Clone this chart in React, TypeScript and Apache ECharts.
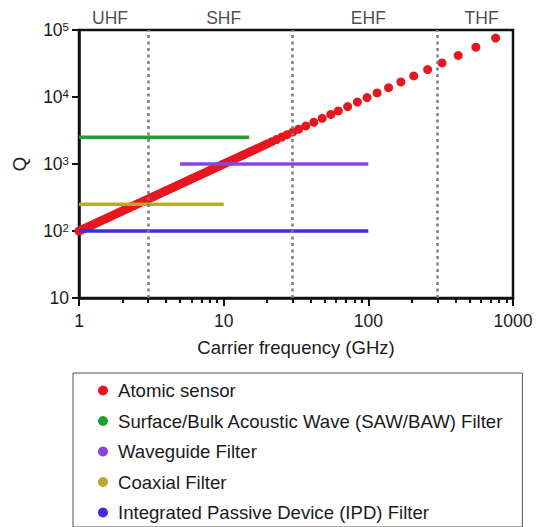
import React, { useEffect, useRef } from "react";
import * as echarts from "echarts";

// Atomic sensor points: [carrier frequency (GHz), Q]
const atomicSensor: [number, number][] = [
  [1, 100], [1.04, 104], [1.08, 108], [1.12, 112], [1.17, 117], [1.22, 122], [1.27, 127],
  [1.32, 132], [1.37, 137], [1.43, 143], [1.49, 149], [1.55, 155], [1.61, 161], [1.68, 168],
  [1.75, 175], [1.82, 182], [1.89, 189], [1.97, 197], [2.05, 205], [2.13, 213], [2.22, 222],
  [2.31, 231], [2.4, 240], [2.5, 250], [2.6, 260], [2.7, 270], [2.81, 281], [2.93, 293],
  [3.05, 305], [3.17, 317], [3.3, 330], [3.43, 343], [3.57, 357], [3.72, 372], [3.87, 387],
  [4.02, 402], [4.19, 419], [4.36, 436], [4.53, 453], [4.72, 472], [4.91, 491], [5.1, 510],
  [5.31, 531], [5.53, 553], [5.75, 575], [5.98, 598], [6.22, 622], [6.48, 648], [6.74, 674],
  [7.01, 701], [7.29, 729], [7.59, 759], [7.9, 790], [8.22, 822], [8.55, 855], [8.89, 889],
  [9.25, 925], [9.63, 963], [10, 1000], [10.4, 1040], [10.8, 1080], [11.3, 1130], [11.8, 1180],
  [12.3, 1230], [12.9, 1290], [13.5, 1350], [14.1, 1410], [14.8, 1480], [15.5, 1550],
  [16.3, 1630], [17.1, 1710], [18, 1800], [19, 1900], [20.1, 2010], [21.5, 2150], [23.2, 2320],
  [25.2, 2520], [27.4, 2740], [30, 3000], [33, 3300], [37, 3700], [42, 4200], [48, 4800],
  [55, 5500], [62, 6200], [72, 7200], [84, 8400], [98, 9800], [115, 11500], [138, 13800],
  [168, 16800], [206, 20600], [257, 25700], [323, 32300], [418, 41800], [554, 55400], [758, 75800],
];

// Filter ranges: [[fStart, Q], [fEnd, Q]]
const sawBaw: [number, number][] = [[1, 2500], [15, 2500]];
const waveguide: [number, number][] = [[5, 1000], [100, 1000]];
const coaxial: [number, number][] = [[1, 250], [10, 250]];
const ipd: [number, number][] = [[1, 100], [100, 100]];

const seriesNames = [
  "Atomic sensor",
  "Surface/Bulk Acoustic Wave (SAW/BAW) Filter",
  "Waveguide Filter",
  "Coaxial Filter",
  "Integrated Passive Device (IPD) Filter",
];
const seriesColors = ["#e8161e", "#22a02c", "#8a44dc", "#bda82e", "#3d2fd4"];

// Band boundaries (GHz) and band labels
const bandBoundaries = [3, 30, 300];
const bandLabels = ["UHF", "SHF", "EHF", "THF"];
const bandLabelFreqs = [1.64, 10, 100, 607];

// Axis ticks
const xMinorTickFreqs = [2, 3, 4, 5, 6, 7, 8, 9, 20, 30, 40, 50, 60, 70, 80, 90, 200, 300, 400, 500, 600, 700, 800, 900];

const FONT = "'Liberation Sans', Arial, sans-serif";
const TXT = "#1a1a1a";
const AX = "#111";

export default function App() {
  const ref = useRef<HTMLDivElement>(null);
  useEffect(() => {
    if (!ref.current) return;
    const chart = echarts.init(ref.current, null, { renderer: "svg" });
    const lineSeries = [sawBaw, waveguide, coaxial, ipd].map((d, i) => ({
      name: seriesNames[i + 1],
      type: "line",
      data: d,
      symbol: "none",
      showSymbol: false,
      z: 3,
      itemStyle: { color: seriesColors[i + 1] },
      lineStyle: { color: seriesColors[i + 1], width: 3.5 },
    }));
    chart.setOption({
      animation: false,
      textStyle: { fontFamily: FONT },
      grid: { left: 79, right: 28, top: 30, bottom: 229, show: true, borderColor: AX, borderWidth: 2.5 },
      xAxis: [
        {
          type: "log",
          logBase: 10,
          min: 1,
          max: 1000,
          name: "Carrier frequency (GHz)",
          nameLocation: "middle",
          nameGap: 40,
          nameTextStyle: { fontSize: 18.5, color: TXT, fontFamily: FONT },
          axisLine: { lineStyle: { color: AX, width: 2.5 } },
          axisTick: { length: 8, lineStyle: { color: AX, width: 2 } },
          axisLabel: {
            fontSize: 17.5,
            color: TXT,
            margin: 14,
            fontFamily: FONT,
            formatter: (v: number) => String(Math.round(v)),
          },
          splitLine: { show: false },
          minorTick: { show: false },
        },
        {
          type: "value",
          min: 0,
          max: 3,
          position: "bottom",
          axisLine: { show: false },
          axisLabel: { show: false },
          splitLine: { show: false },
          axisTick: {
            show: true,
            length: 5,
            lineStyle: { color: AX, width: 2 },
            customValues: xMinorTickFreqs.map((f) => Math.log10(f)),
          },
        },
      ],
      yAxis: {
        type: "log",
        logBase: 10,
        min: 10,
        max: 100000,
        name: "Q",
        nameLocation: "middle",
        nameGap: 50,
        nameTextStyle: { fontSize: 18.5, color: TXT, fontFamily: FONT },
        axisLine: { lineStyle: { color: AX, width: 2.5 } },
        axisTick: { length: 7, lineStyle: { color: AX, width: 2 } },
        splitLine: { show: false },
        axisLabel: {
          color: TXT,
          fontSize: 17.5,
          margin: 10,
          fontFamily: FONT,
          formatter: (v: number) => {
            const e = Math.round(Math.log10(v));
            return e === 1 ? "10" : `10{sup|${e}}`;
          },
          rich: {
            sup: { fontSize: 11.5, verticalAlign: "top", color: TXT, fontFamily: FONT, padding: [0, 0, 6, 0] },
          },
        },
      },
      legend: {
        data: seriesNames,
        orient: "vertical",
        left: 73,
        top: 373,
        height: 146,
        padding: [8, 19, 5, 25],
        itemWidth: 20,
        itemHeight: 10,
        itemGap: 11.5,
        icon: "circle",
        borderColor: "#555",
        borderWidth: 1,
        textStyle: { fontSize: 18.6, color: TXT, lineHeight: 18, fontFamily: FONT },
      },
      series: [
        {
          name: seriesNames[0],
          type: "scatter",
          data: atomicSensor,
          symbolSize: 9,
          z: 2,
          itemStyle: { color: seriesColors[0], opacity: 1 },
        },
        ...lineSeries,
        {
          name: "bands",
          type: "line",
          data: [],
          silent: true,
          markLine: {
            silent: true,
            symbol: ["none", "none"],
            label: { show: false },
            lineStyle: { color: "#7e7e7e", width: 2.5, type: [3, 3.5] },
            data: bandBoundaries.map((b) => ({ xAxis: b })),
          },
        },
        {
          name: "bandLabels",
          type: "scatter",
          symbolSize: 0,
          silent: true,
          clip: false,
          data: bandLabels.map((l, i) => ({ name: l, value: [bandLabelFreqs[i], 100000] })),
          label: {
            show: true,
            position: "top",
            distance: 3,
            formatter: (p: any) => p.name,
            fontSize: 17.5,
            color: TXT,
            fontFamily: FONT,
          },
        },
      ],
    });
    return () => chart.dispose();
  }, []);
  return <div ref={ref} style={{ position: "fixed", left: 0, top: 0, width: 541, height: 527, background: "#fff" }} />;
}
